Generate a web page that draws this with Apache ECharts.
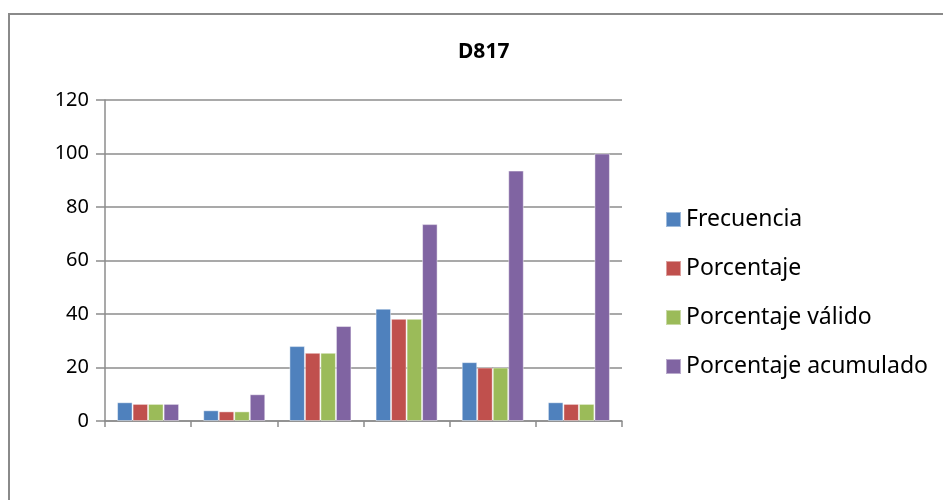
<!DOCTYPE html>
<html>
<head>
<meta charset="utf-8">
<script src="https://cdn.jsdelivr.net/npm/echarts@6/dist/echarts.min.js"></script>
<style>
  html, body { margin: 0; padding: 0; background: #fff; }
  #chart { width: 943px; height: 500px; }
</style>
</head>
<body>
<div id="chart"></div>
<script>
const categories = ['1', '2', '3', '4', '5', '6'];
const frecuencia = [7, 4, 28, 42, 22, 7];
const porcentaje = [6.4, 3.6, 25.5, 38.2, 20.0, 6.4];
const porcentajeValido = [6.4, 3.6, 25.5, 38.2, 20.0, 6.4];
const porcentajeAcumulado = [6.4, 10.0, 35.5, 73.6, 93.6, 100.0];
const yTicks = { min: 0, max: 120, interval: 20 };

const font = '"Noto Sans", "Open Sans", sans-serif';
const gray = '#8c8c8c';

const chart = echarts.init(document.getElementById('chart'), null, { renderer: 'canvas' });

const bar = (name, data, color) => ({
  name,
  type: 'bar',
  data,
  barGap: '0%',
  barCategoryGap: '28%',
  itemStyle: { color, borderColor: 'rgba(255,255,255,0.45)', borderWidth: 1 }
});

chart.setOption({
  animation: false,
  textStyle: { fontFamily: font },
  title: {
    text: 'D817',
    left: 453,
    top: 37,
    textStyle: { fontFamily: font, fontSize: 21, fontWeight: 'bold', color: '#000' }
  },
  legend: {
    orient: 'vertical',
    left: 660,
    top: 203,
    itemWidth: 15,
    itemHeight: 15,
    itemGap: 26,
    icon: 'rect',
    textStyle: { fontFamily: font, fontSize: 23, color: '#000', lineHeight: 22 }
  },
  graphic: [{
    type: 'rect',
    shape: { x: 9, y: 14, width: 1000, height: 600 },
    style: { fill: 'none', stroke: '#8a8a8a', lineWidth: 2 },
    silent: true
  }],
  grid: { left: 105, right: 321, top: 100, bottom: 79 },
  xAxis: {
    type: 'category',
    data: categories,
    axisLine: { lineStyle: { color: gray, width: 1.5 } },
    axisTick: { show: true, length: 6, lineStyle: { color: gray, width: 1.5 } },
    axisLabel: { show: false }
  },
  yAxis: {
    type: 'value',
    min: yTicks.min,
    max: yTicks.max,
    interval: yTicks.interval,
    axisLine: { show: true, lineStyle: { color: gray, width: 1.5 } },
    axisTick: { show: true, length: 9, lineStyle: { color: gray, width: 1.5 } },
    axisLabel: { fontFamily: font, fontSize: 20, color: '#000', margin: 16 },
    splitLine: { lineStyle: { color: gray, width: 1.5 } }
  },
  series: [
    bar('Frecuencia', frecuencia, '#4F81BD'),
    bar('Porcentaje', porcentaje, '#C0504D'),
    bar('Porcentaje válido', porcentajeValido, '#9BBB59'),
    bar('Porcentaje acumulado', porcentajeAcumulado, '#8064A2')
  ]
});
</script>
</body>
</html>
